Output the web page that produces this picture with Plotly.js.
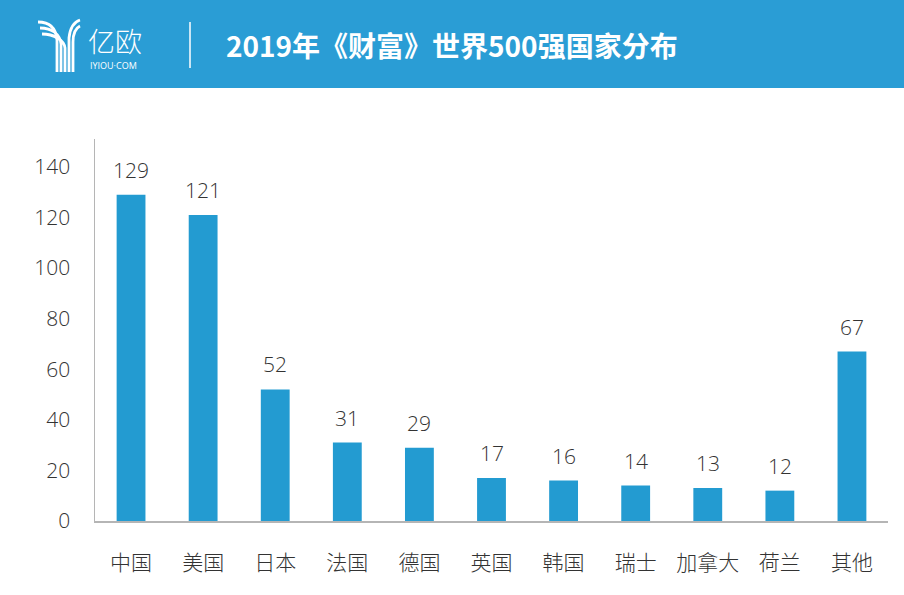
<!DOCTYPE html>
<html>
<head>
<meta charset="utf-8">
<script src="https://cdn.plot.ly/plotly-3.0.1.min.js"></script>
<style>html,body{margin:0;padding:0;background:#fff;}#chart{width:904px;height:595px;}</style>
</head>
<body>
<div id="chart"></div>
<script>
const categories = ["中国","美国","日本","法国","德国","英国","韩国","瑞士","加拿大","荷兰","其他"];
const companyCounts = [129,121,52,31,29,17,16,14,13,12,67];
const yTickValues = [0,20,40,60,80,100,120,140];
const titleText = "2019年《财富》世界500强国家分布";
const brandName = "亿欧";
const brandSite = "IYIOU·COM";

const W = 904, H = 595;
const L = 95, R = 888, T = 139, B = 521;
const px = x => (x - L) / (R - L);
const py = y => (B - y) / (B - T);

const barColor = "#239bd1";
const headColor = "#2a9dd5";
const textColor = "#333333";

const trace = {
  type: "bar",
  x: categories,
  y: companyCounts,
  width: 0.4,
  marker: {color: barColor},
  hoverinfo: "x+y"
};

const annotations = categories.map((c, i) => ({
  x: c, y: companyCounts[i], xref: "x", yref: "y",
  text: String(companyCounts[i]), showarrow: false,
  yanchor: "bottom", yshift: 9,
  font: {family: "Open Sans, Noto Sans, sans-serif", size: 21, color: textColor, weight: 300}
}));

annotations.push({
  xref: "paper", yref: "paper", x: px(224), y: py(45),
  xanchor: "left", yanchor: "middle", showarrow: false,
  text: "<b>" + titleText + "</b>",
  font: {family: "Noto Sans CJK SC, sans-serif", size: 28, color: "#ffffff", weight: 900}
});
annotations.push({
  xref: "paper", yref: "paper", x: px(86), y: py(62),
  xanchor: "left", yanchor: "bottom", showarrow: false,
  text: brandName,
  font: {family: "Noto Sans CJK SC, sans-serif", size: 27, color: "#ffffff", weight: 300}
});
annotations.push({
  xref: "paper", yref: "paper", x: px(88), y: py(57),
  xanchor: "left", yanchor: "top", showarrow: false,
  text: brandSite,
  font: {family: "Open Sans, sans-serif", size: 9, color: "#ffffff"}
});

function curve(x0,y0,c1x,c1y,c2x,c2y,x1,y1,x2,y2) {
  return "M" + px(x0)+","+py(y0)+" C"+px(c1x)+","+py(c1y)+" "+px(c2x)+","+py(c2y)+" "+px(x1)+","+py(y1)+" L"+px(x2)+","+py(y2);
}

const shapes = [
  {type:"rect", xref:"paper", yref:"paper", x0:px(0), x1:px(W), y0:py(0), y1:py(88),
   fillcolor: headColor, line:{width:0}, layer:"below"},
  {type:"line", xref:"paper", yref:"paper", x0:px(190), x1:px(190), y0:py(22), y1:py(68),
   line:{color:"#ffffff", width:1.5}}
];
const logoLines = [
  curve(38,22, 50,22, 56,28, 57,40, 57,72),
  curve(40,28, 52,28, 60,34, 61,44, 61,72),
  curve(42,34, 54,34, 64,40, 65,48, 65,72),
  curve(80,20, 74,22, 70,28, 69,38, 69,72),
  curve(80,26, 76,28, 73,34, 73,42, 73,72)
];
logoLines.forEach(p => shapes.push({type:"path", xref:"paper", yref:"paper", path:p,
  line:{color:"#ffffff", width:2.8}}));

const layout = {
  width: W, height: H,
  margin: {l: L, r: W - R, t: T, b: H - B, pad: 0},
  paper_bgcolor: "#ffffff", plot_bgcolor: "#ffffff",
  showlegend: false,
  xaxis: {
    type: "category",
    range: [-0.5, categories.length - 0.5],
    showline: true, linecolor: "#b5b5b5", linewidth: 1.5,
    showgrid: false, zeroline: false, ticks: "",
    ticklabelstandoff: 22,
    tickfont: {family: "Noto Sans CJK SC, sans-serif", size: 21, color: textColor, weight: 300}
  },
  yaxis: {
    range: [0, 151],
    tickvals: yTickValues, ticktext: yTickValues.map(String),
    showline: true, linecolor: "#b5b5b5", linewidth: 1.5,
    showgrid: false, zeroline: false, ticks: "",
    ticklabelstandoff: 19,
    tickfont: {family: "Open Sans, Noto Sans, sans-serif", size: 21, color: textColor, weight: 300}
  },
  annotations: annotations,
  shapes: shapes
};

Plotly.newPlot("chart", [trace], layout, {displayModeBar: false, staticPlot: true});
</script>
</body>
</html>
